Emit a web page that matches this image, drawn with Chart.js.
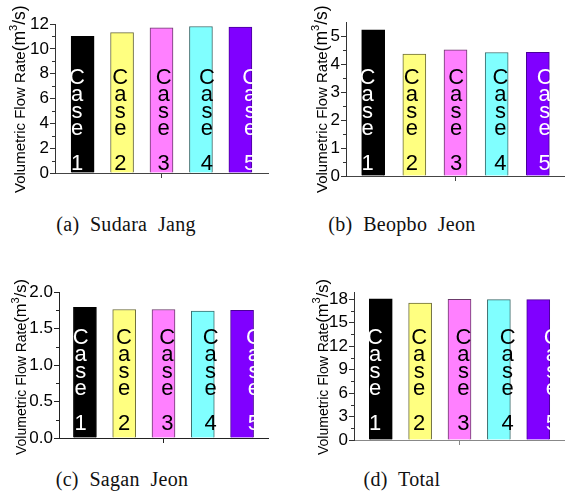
<!DOCTYPE html>
<html>
<head>
<meta charset="utf-8">
<script src="https://cdn.jsdelivr.net/npm/chart.js@4.4.1/dist/chart.umd.min.js"></script>
<style>
  body { margin: 0; background: #fff; }
  #wrap { position: relative; width: 565px; height: 500px; overflow: hidden; }
  canvas { position: absolute; }
  .cap {
    position: absolute; width: 280px; text-align: center;
    font-family: "Liberation Serif", "DejaVu Serif", serif; font-size: 20px;
    color: #111; white-space: pre; letter-spacing: 0.3px;
  }
</style>
</head>
<body>
<div id="wrap">
  <canvas id="chartA" width="282" height="200" style="left:0;top:0"></canvas>
  <canvas id="chartB" width="282" height="200" style="left:283px;top:0"></canvas>
  <canvas id="chartC" width="282" height="200" style="left:0;top:260px"></canvas>
  <canvas id="chartD" width="282" height="200" style="left:283px;top:260px"></canvas>
  <div class="cap" style="left:-14px;top:213px">(a)  Sudara  Jang</div>
  <div class="cap" style="left:262px;top:213px">(b)  Beopbo  Jeon</div>
  <div class="cap" style="left:-18px;top:468px">(c)  Sagan  Jeon</div>
  <div class="cap" style="left:262px;top:468px">(d)  Total</div>
</div>
<script>
const cases = ["Case 1", "Case 2", "Case 3", "Case 4", "Case 5"];
const caseNums = [1, 2, 3, 4, 5];

const sudaraJang = [11.0, 11.3, 11.7, 11.8, 11.75];
const beopboJeon = [5.22, 4.35, 4.51, 4.41, 4.42];
const saganJeon = [1.79, 1.76, 1.76, 1.74, 1.75];
const totalFlow = [18.02, 17.49, 17.97, 17.92, 17.92];

const ticksA = [0, 2, 4, 6, 8, 10, 12];
const ticksB = [0, 1, 2, 3, 4, 5];
const ticksC = [0, 0.5, 1.0, 1.5, 2.0];
const ticksD = [0, 3, 6, 9, 12, 15, 18];
const minorA = [1, 3, 5, 7, 9, 11];
const minorB = [0.5, 1.5, 2.5, 3.5, 4.5];
const minorC = [0.25, 0.75, 1.25, 1.75];
const minorD = [1.5, 4.5, 7.5, 10.5, 13.5, 16.5];

// y title pieces: plain text, unit, superscript, unit end
const yTitleParts = ["Volumetric Flow Rate", "(m", "3", "/s)"];

const barColors = ["#000000", "#ffff80", "#ff80ff", "#80ffff", "#8000ff"];
const barBorders = ["#000000", "#6b6b3a", "#6b3a6b", "#3a6b6b", "#4a0099"];
const textColors = ["#ffffff", "#000000", "#000000", "#000000", "#ffffff"];
const FONT = "'Liberation Sans', Arial, sans-serif";

// labels "Case n" written letter by letter down each slot
const caseText = {
    id: "caseText",
    afterDatasetsDraw(chart, args, opts) {
        const ctx = chart.ctx;
        ctx.save();
        ctx.font = "22px " + FONT;
        ctx.textAlign = "center";
        ctx.textBaseline = "alphabetic";
        cases.forEach((label, i) => {
            const [word, num] = label.split(" ");
            const x = opts.start + i * opts.step;
            ctx.fillStyle = textColors[i];
            word.split("").forEach((ch, k) => ctx.fillText(ch, x, 84 + k * 17));
            ctx.fillText(num, x, 170);
        });
        ctx.restore();
    }
};

// minor ticks and rotated axis title
const axisExtras = {
    id: "axisExtras",
    afterDraw(chart, args, opts) {
        const ctx = chart.ctx;
        const y = chart.scales.y;
        const left = chart.chartArea.left;
        ctx.save();
        ctx.strokeStyle = opts.color;
        ctx.lineWidth = 1;
        opts.minor.forEach(v => {
            const py = Math.round(y.getPixelForValue(v)) + 0.5;
            ctx.beginPath();
            ctx.moveTo(left - 3, py);
            ctx.lineTo(left, py);
            ctx.stroke();
        });

        ctx.translate(opts.titleX, opts.titleY);
        ctx.rotate(-Math.PI / 2);
        ctx.fillStyle = "#000";
        ctx.textAlign = "left";
        ctx.textBaseline = "alphabetic";
        const big = opts.titleSize, unit = opts.titleSize + 2.5, sup = Math.round(opts.titleSize * 0.75);
        let pos = 0;
        const piece = (txt, size, dy) => {
            ctx.font = size + "px " + FONT;
            ctx.fillText(txt, pos, dy);
            pos += ctx.measureText(txt).width;
        };
        piece(yTitleParts[0], big, 0);
        piece(yTitleParts[1], unit, 0);
        piece(yTitleParts[2], sup, -unit * 0.45);
        piece(yTitleParts[3], unit, 0);
        ctx.restore();
    }
};

function makePanel(id, values, ticks, minor, p) {
    const canvas = document.getElementById(id);
    return new Chart(canvas.getContext("2d"), {
        type: "bar",
        data: {
            datasets: [{
                data: caseNums.map((n, i) => ({ x: n, y: values[i] })),
                backgroundColor: barColors,
                borderColor: barBorders,
                borderWidth: 1,
                borderSkipped: "bottom",
                barThickness: 23,
                grouped: false,
            }]
        },
        options: {
            responsive: false,
            animation: false,
            layout: {
                padding: {
                    left: 0,
                    top: p.top,
                    right: canvas.width - p.right,
                    bottom: canvas.height - p.bottom,
                }
            },
            plugins: {
                legend: { display: false },
                tooltip: { enabled: false },
                caseText: { start: p.textStart, step: p.textStep },
                axisExtras: { minor: minor, color: p.yColor, titleX: p.titleX, titleY: p.titleY, titleSize: p.titleSize },
            },
            scales: {
                x: {
                    type: "linear",
                    offset: false,
                    min: 3 - p.halfRange,
                    max: 3 + p.halfRange,
                    afterBuildTicks: s => { s.ticks = [{ value: 3 }]; },
                    afterFit: s => { s.height = 0; },
                    ticks: { display: false },
                    grid: { offset: false, drawOnChartArea: false, tickLength: 5, color: p.xColor },
                    border: { color: p.xColor, width: 1 },
                },
                y: {
                    min: 0,
                    max: p.max,
                    afterBuildTicks: s => { s.ticks = ticks.map(v => ({ value: v })); },
                    afterFit: s => { s.width = p.left; },
                    ticks: {
                        color: "#000",
                        padding: 1,
                        font: { family: FONT, size: 17 },
                        callback: v => p.fixed ? v.toFixed(1) : String(v),
                    },
                    grid: { drawOnChartArea: false, tickLength: 5, color: p.yColor },
                    border: { color: p.yColor, width: 1 },
                }
            }
        },
        plugins: [caseText, axisExtras]
    });
}

makePanel("chartA", sudaraJang, ticksA, minorA,
    { left: 55, right: 268, top: 24, bottom: 173, max: 12, halfRange: 2.7,
      textStart: 77, textStep: 43.3, titleX: 24.5, titleY: 193, titleSize: 15, yColor: "#333", xColor: "#444" });
makePanel("chartB", beopboJeon, ticksB, minorB,
    { left: 63, right: 282, top: 22, bottom: 176, max: 5.5, halfRange: 2.66,
      textStart: 84.5, textStep: 44.3, titleX: 43.5, titleY: 193, titleSize: 15, yColor: "#333", xColor: "#444" });
makePanel("chartC", saganJeon, ticksC, minorC,
    { left: 59, right: 268, top: 32, bottom: 178, max: 2.0, halfRange: 2.66,
      textStart: 80.7, textStep: 43.3, titleX: 26, titleY: 195, titleSize: 14, yColor: "#222", xColor: "#222", fixed: true });
makePanel("chartD", totalFlow, ticksD, minorD,
    { left: 71, right: 282, top: 32, bottom: 180, max: 18.9, halfRange: 2.68,
      textStart: 92, textStep: 44.2, titleX: 44.5, titleY: 195, titleSize: 14, yColor: "#333", xColor: "#888" });
</script>
</body>
</html>
